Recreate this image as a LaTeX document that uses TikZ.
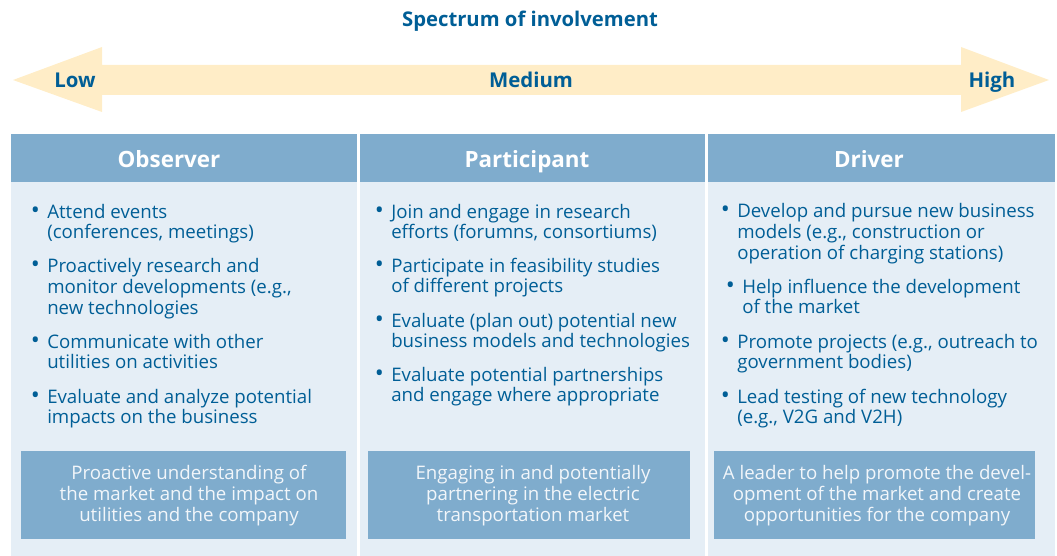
\documentclass[tikz,border=0pt]{standalone}
\usepackage{fontspec}
\setmainfont{Open Sans}
\usetikzlibrary{positioning}

\definecolor{inkblue}{RGB}{0,94,150}
\definecolor{headblue}{RGB}{127,172,205}
\definecolor{paleblue}{RGB}{229,238,246}
\definecolor{paleyellow}{RGB}{255,237,199}
\definecolor{boxtext}{RGB}{242,246,250}

\newcommand{\bul}{\llap{{\fontsize{18}{18}\selectfont\textbullet}\hspace{5.6pt}}}

\tikzset{
  title/.style={font=\bfseries\fontsize{15.2}{18}\selectfont, text=inkblue, anchor=base, inner sep=0pt},
  level/.style={font=\bfseries\fontsize{15.3}{18}\selectfont, text=inkblue, anchor=base, inner sep=0pt},
  heading/.style={font=\bfseries\fontsize{16.8}{20}\selectfont, text=white, anchor=base, inner sep=0pt},
  % multi-line nodes: base is the baseline of the last line
  bitem/.style={font=\fontsize{14}{15.5}\selectfont, text=inkblue, align=left, anchor=base west, inner sep=0pt},
  outcome/.style={font=\fontsize{14}{15.5}\selectfont, text=boxtext, align=center, anchor=base, inner sep=0pt},
}

\begin{document}
\begin{tikzpicture}[x=0.75pt,y={(0,-0.75pt)}]
  \useasboundingbox (0,0) rectangle (1057,556);

  % spectrum arrow
  \fill[paleyellow] (13,80) -- (102,47) -- (102,65) -- (961,65) -- (961,47)
    -- (1049,80) -- (961,112) -- (961,95) -- (102,95) -- (102,112) -- cycle;
  \node[title] (spectrum) at (530,27) {Spectrum of involvement};
  \node[level] (low) at (75,88) {Low};
  \node[level] (medium) at (531,88) {Medium};
  \node[level] (high) at (992,88) {High};

  % columns
  \fill[paleblue] (11,182) rectangle (357,556);
  \fill[paleblue] (360,182) rectangle (705,556);
  \fill[paleblue] (708,182) rectangle (1055,556);
  \fill[headblue] (11,134) rectangle (357,182);
  \fill[headblue] (360,134) rectangle (705,182);
  \fill[headblue] (708,134) rectangle (1055,182);
  \node[heading] (observer) at (169,168) {Observer};
  \node[heading] (participant) at (527,168) {Participant};
  \node[heading] (driver) at (869,168) {Driver};

  % observer
  \node[bitem] (obs1) at (47,238.7) {\bul Attend events\\(conferences, meetings)};
  \node[bitem] (obs2) at (47,314.3) {\bul Proactively research and\\monitor developments (e.g.,\\new technologies};
  \node[bitem] (obs3) at (47,368.7) {\bul Communicate with other\\utilities on activities};
  \node[bitem] (obs4) at (47,423.7) {\bul Evaluate and analyze potential\\impacts on the business};

  % participant
  \node[bitem] (par1) at (391,238.7) {\bul Join and engage in research\\efforts (forumns, consortiums)};
  \node[bitem] (par2) at (391,292.7) {\bul Participate in feasibility studies\\of different projects};
  \node[bitem] (par3) at (391,347.7) {\bul Evaluate (plan out) potential new\\business models and technologies};
  \node[bitem] (par4) at (391,401.7) {\bul Evaluate potential partnerships\\and engage where appropriate};

  % driver
  \node[bitem] (drv1) at (737,259.3) {\bul Develop and pursue new business\\models (e.g., construction or\\operation of charging stations)};
  \node[bitem] (drv2) at (742,313.7) {\bul Help influence the development\\of the market};
  \node[bitem] (drv3) at (737,368.7) {\bul Promote projects (e.g., outreach to\\government bodies)};
  \node[bitem] (drv4) at (737,423.7) {\bul Lead testing of new technology\\(e.g., V2G and V2H)};

  % outcomes
  \fill[headblue] (21,451) rectangle (346,539);
  \fill[headblue] (368,451) rectangle (690,539);
  \fill[headblue] (714,451) rectangle (1035,539);
  \node[outcome] (obsout) at (189,521.3) {Proactive understanding of\\the market and the impact on\\utilities and the company};
  \node[outcome] (parout) at (533,521.3) {Engaging in and potentially\\partnering in the electric\\transportation market};
  \node[outcome] (drvout) at (877,521.3) {A leader to help promote the devel-\\opment of the market and create\\opportunities for the company};
\end{tikzpicture}
\end{document}
